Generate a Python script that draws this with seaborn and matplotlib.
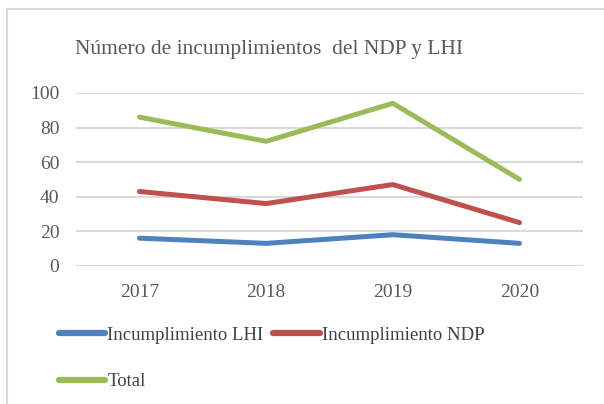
import matplotlib
matplotlib.use('Agg')
import matplotlib.pyplot as plt
import matplotlib.patches as mpatches
import seaborn as sns
import pandas as pd

# values
years = [2017, 2018, 2019, 2020]
lhi = [16, 13, 18, 13]
ndp = [43, 36, 47, 25]
total = [86, 72, 94, 50]
series_names = ['Incumplimiento LHI', 'Incumplimiento NDP', 'Total']
colors = ['#4F81BD', '#C0504D', '#9BBB59']
title = 'Número de incumplimientos  del NDP y LHI'

df = pd.DataFrame({
    'Año': years * 3,
    'Valor': lhi + ndp + total,
    'Serie': [series_names[0]] * 4 + [series_names[1]] * 4 + [series_names[2]] * 4,
})

sns.set_theme(style='white')
plt.rcParams['font.family'] = ['Liberation Serif', 'DejaVu Serif']

fig = plt.figure(figsize=(6.04, 4.04), dpi=100)
ax = fig.add_axes([0.126, 0.342, 0.839, 0.428])

sns.lineplot(data=df, x='Año', y='Valor', hue='Serie', hue_order=series_names,
             palette=colors, linewidth=3.6, ax=ax, legend=True, sort=False)

ax.set_xlim(2016.5, 2020.5)
ax.set_ylim(0, 100)
ax.set_yticks(range(0, 101, 20))
ax.set_xticks(years)
ax.set_xticklabels([str(y) for y in years])
ax.set_xlabel('')
ax.set_ylabel('')
for s in ax.spines.values():
    s.set_visible(False)
ax.yaxis.grid(True, color='#D9D9D9', linewidth=1.5)
ax.set_axisbelow(True)
ax.tick_params(axis='both', length=0, labelsize=14, colors='#595959')
ax.tick_params(axis='y', pad=12)
ax.tick_params(axis='x', pad=13)

# legend at the bottom, filled row by row (LHI, NDP / Total)
handles, labels = ax.get_legend_handles_labels()
order = [0, 2, 1]
ax.legend([handles[i] for i in order], [labels[i] for i in order],
          loc='upper left', bbox_to_anchor=(-0.068, -0.255),
          ncol=2, frameon=False, fontsize=13.5, handlelength=2.5, handletextpad=0.1,
          columnspacing=0.5, labelspacing=1.55, labelcolor='#404040')
for lh in ax.get_legend().get_lines():
    lh.set_linewidth(4.5)

fig.text(0.445, 0.877, title, ha='center', va='center', fontsize=15.5, color='#595959')

# chart area border
fig.patches.append(mpatches.Rectangle((7.5 / 604, -0.1), 1.2, 1.1 - 9.5 / 404,
                                      transform=fig.transFigure, fill=False,
                                      edgecolor='#D9D9D9', linewidth=1.5))

fig.savefig('out.png', dpi=100)
